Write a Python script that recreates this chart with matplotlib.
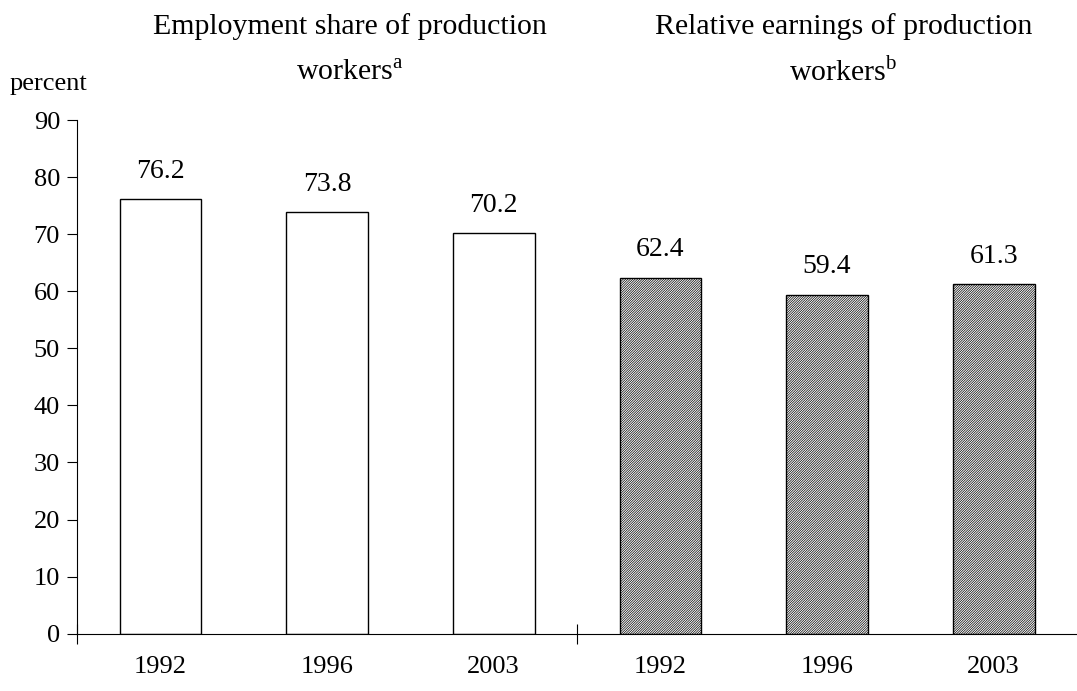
import numpy as np
import matplotlib.pyplot as plt

plt.rcParams['font.family'] = ['Liberation Serif', 'DejaVu Serif']
plt.rcParams['mathtext.fontset'] = 'custom'
plt.rcParams['mathtext.rm'] = 'Liberation Serif'
plt.rcParams['hatch.linewidth'] = 0.5

# data
years = ['1992', '1996', '2003', '1992', '1996', '2003']
employment_share = [76.2, 73.8, 70.2]
relative_earnings = [62.4, 59.4, 61.3]
title_left = ['Employment share of production', 'workers$^{\\mathrm{a}}$']
title_right = ['Relative earnings of production', 'workers$^{\\mathrm{b}}$']

fig = plt.figure(figsize=(10.77, 6.91), dpi=100)
ax = fig.add_axes([0.0715, 0.0829, 0.9285, 0.7434])

x = np.arange(6)
w = 0.49
ax.bar(x[:3], employment_share, width=w, color='white', edgecolor='black', linewidth=1.0)
ax.bar(x[3:], relative_earnings, width=w, color='white', edgecolor='black', linewidth=1.0,
       hatch='/' * 14)

for xi, v in zip(x, employment_share + relative_earnings):
    ax.annotate(f'{v:.1f}', (xi, v), xytext=(0, 11), textcoords='offset points',
                ha='center', va='bottom', fontsize=20)

ax.set_xlim(-0.5, 5.5)
ax.set_ylim(0, 90)
ax.set_yticks(range(0, 91, 10))
ax.tick_params(axis='y', direction='out', length=7.2, labelsize=19, pad=5)

ax.set_xticks([-0.5, 2.5])
ax.set_xticklabels([])
ax.tick_params(axis='x', direction='inout', length=14.4)
for xi, lab in zip(x, years):
    ax.text(xi, -0.043, lab, transform=ax.get_xaxis_transform(), ha='center', va='top', fontsize=19)

for s in ['top', 'right']:
    ax.spines[s].set_visible(False)

# titles (two lines each, placed by baseline)
for cx, lines in [(0.325, title_left), (0.783, title_right)]:
    fig.text(cx, 1 - 34 / 691, lines[0], ha='center', va='baseline', fontsize=21.5)
    fig.text(cx, 1 - 81 / 691, lines[1], ha='center', va='baseline', fontsize=21.5)
fig.text(0.009, 1 - 90 / 691, 'percent', ha='left', va='baseline', fontsize=19)

fig.savefig('out.png', dpi=100)
